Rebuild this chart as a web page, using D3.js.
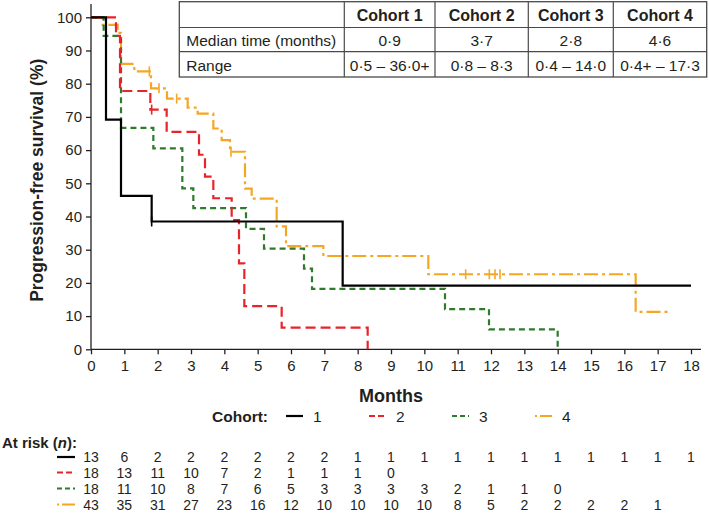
<!DOCTYPE html>
<html><head><meta charset="utf-8">
<script src="https://cdn.jsdelivr.net/npm/d3@7"></script>
<style>
body{margin:0;background:#fff;}
text{font-family:Arial,"Liberation Sans",sans-serif;fill:#231f20;}
</style>
</head><body>
<svg id="chart" width="709" height="514"></svg>
<script>
// ---------- DATA ----------
const monthTicks = d3.range(0, 19);
const yTickValues = d3.range(0, 101, 10);
const cohortNames = ["1", "2", "3", "4"];

// Kaplan–Meier step curves (time in months, survival %)
const c1Times = [0, 0.45, 0.9, 1.82, 7.55, 18.0];
const c1Surv  = [100, 69.2, 46.2, 38.5, 19.2, 19.2];
const c2Times = [0, 0.75, 0.87, 1.78, 2.27, 3.24, 3.42, 3.67, 4.22, 4.44, 4.6, 5.72, 8.3];
const c2Surv  = [100, 94.4, 77.8, 72.2, 65.5, 58.6, 52.0, 45.5, 38.9, 25.9, 13.0, 6.5, 0];
const c3Times = [0, 0.38, 0.9, 1.87, 2.74, 3.07, 4.65, 5.19, 6.39, 6.63, 10.62, 11.94, 14.0];
const c3Surv  = [100, 94.4, 66.7, 60.5, 48.5, 42.5, 36.3, 30.3, 24.3, 18.2, 12.1, 6.0, 0];
const c4Times = [0, 0.35, 0.8, 0.9, 1.3, 1.8, 2.28, 2.9, 3.2, 3.67, 3.92, 4.17, 4.62, 4.82, 5.57, 5.85, 6.97, 10.12, 16.34, 17.3];
const c4Surv  = [100, 97.7, 95.3, 86.0, 83.7, 78.6, 75.5, 72.8, 71.0, 66.5, 63.0, 59.5, 48.4, 45.4, 37.0, 31.1, 28.1, 22.6, 11.3, 11.3];

// censored observations (months)
const c1Censor = [1.82];
const c2Censor = [1.82];
const c3Censor = [];
const c4Censor = [1.75, 2.04, 2.57, 4.2, 11.24, 11.95, 12.12, 12.27];

// numbers at risk at each month
const risk1 = [13, 6, 2, 2, 2, 2, 2, 2, 1, 1, 1, 1, 1, 1, 1, 1, 1, 1, 1];
const risk2 = [18, 13, 11, 10, 7, 2, 1, 1, 1, 0];
const risk3 = [18, 11, 10, 8, 7, 6, 5, 3, 3, 3, 3, 2, 1, 1, 0];
const risk4 = [43, 35, 31, 27, 23, 16, 12, 10, 10, 10, 10, 8, 5, 2, 2, 2, 2, 1];

// summary table
const tableHeaders = ["", "Cohort 1", "Cohort 2", "Cohort 3", "Cohort 4"];
const medianRow = ["Median time (months)", "0·9", "3·7", "2·8", "4·6"];
const rangeRow  = ["Range", "0·5 – 36·0+", "0·8 – 8·3", "0·4 – 14·0", "0·4+ – 17·3"];

// ---------- STYLE ----------
const colors = ["#000000", "#e8232a", "#2e7b2c", "#f6a623"];
const dashes = [null, "10,5", "6,4", "14,4,3,4"];
const widths = [2.2, 2.2, 2.2, 2.2];

const series = [
  {t: c1Times, s: c1Surv, c: c1Censor, r: risk1},
  {t: c2Times, s: c2Surv, c: c2Censor, r: risk2},
  {t: c3Times, s: c3Surv, c: c3Censor, r: risk3},
  {t: c4Times, s: c4Surv, c: c4Censor, r: risk4}
];

const svg = d3.select("#chart");
const x = d3.scaleLinear().domain([0, 18]).range([91, 691]);
const y = d3.scaleLinear().domain([0, 100]).range([349.3, 17.3]);

// ---------- AXES ----------
const axisColor = "#231f20";
const gx = svg.append("g").attr("transform", `translate(0,${y(0)})`)
  .call(d3.axisBottom(x).tickValues(monthTicks).tickSize(5).tickSizeOuter(0).tickPadding(6));
const gy = svg.append("g").attr("transform", `translate(${x(0)},0)`)
  .call(d3.axisLeft(y).tickValues(yTickValues).tickSize(5).tickSizeOuter(0).tickPadding(4));
[gx, gy].forEach(g => {
  g.select(".domain").remove();
  g.selectAll(".tick line").attr("stroke", axisColor).attr("stroke-width", 1.3);
  g.selectAll(".tick text").attr("font-size", 15).style("font-family", "Arial, 'Liberation Sans', sans-serif").attr("fill", axisColor);
});
svg.append("line").attr("x1", x(0)).attr("x2", x(18.3)).attr("y1", y(0)).attr("y2", y(0))
  .attr("stroke", axisColor).attr("stroke-width", 1.3);
svg.append("line").attr("x1", x(0)).attr("x2", x(0)).attr("y1", y(0)).attr("y2", y(104))
  .attr("stroke", axisColor).attr("stroke-width", 1.3);

svg.append("text").attr("x", x(9)).attr("y", 402).attr("text-anchor", "middle")
  .attr("font-size", 18).attr("font-weight", "bold").text("Months");
svg.append("text").attr("transform", `translate(43,${(y(0)+y(100))/2 - 3}) rotate(-90)`)
  .attr("text-anchor", "middle").attr("font-size", 17.5).attr("font-weight", "bold")
  .text("Progression-free survival (%)");

// ---------- CURVES ----------
const line = d3.line().x(d => x(d[0])).y(d => y(d[1])).curve(d3.curveStepAfter);
function survAt(sr, t) {
  let v = sr.s[0];
  for (let i = 0; i < sr.t.length; i++) if (sr.t[i] <= t) v = sr.s[i];
  return v;
}
// draw in order so that black is on top
[3, 2, 1, 0].forEach(i => {
  const sr = series[i];
  const pts = sr.t.map((t, k) => [t, sr.s[k]]);
  svg.append("path").attr("d", line(pts)).attr("fill", "none")
    .attr("stroke", colors[i]).attr("stroke-width", widths[i])
    .attr("stroke-dasharray", dashes[i]);
  sr.c.forEach(ct => {
    const v = survAt(sr, ct);
    svg.append("line").attr("x1", x(ct)).attr("x2", x(ct))
      .attr("y1", y(v) - 5).attr("y2", y(v) + 5)
      .attr("stroke", colors[i]).attr("stroke-width", 1.6);
  });
});

// ---------- TABLE ----------
const colEdges = [179.3, 344.3, 435, 528.3, 613.3, 706.7];
const rowEdges = [1.7, 27.5, 51.7, 77];
const tg = svg.append("g");
tg.append("rect").attr("x", colEdges[0]).attr("y", rowEdges[0])
  .attr("width", colEdges[5] - colEdges[0]).attr("height", rowEdges[3] - rowEdges[0])
  .attr("fill", "#fff").attr("stroke", "#4a4a4a").attr("stroke-width", 1.3);
rowEdges.slice(1, 3).forEach(ry => tg.append("line").attr("x1", colEdges[0]).attr("x2", colEdges[5])
  .attr("y1", ry).attr("y2", ry).attr("stroke", "#4a4a4a").attr("stroke-width", 1.2));
colEdges.slice(1, 5).forEach(cx => tg.append("line").attr("x1", cx).attr("x2", cx)
  .attr("y1", rowEdges[0]).attr("y2", rowEdges[3]).attr("stroke", "#4a4a4a").attr("stroke-width", 1.2));
const rows = [tableHeaders, medianRow, rangeRow];
const baselines = [21, 46, 70.5];
rows.forEach((row, ri) => {
  row.forEach((txt, ci) => {
    if (!txt) return;
    const first = ci === 0;
    tg.append("text")
      .attr("x", first ? colEdges[0] + 7 : (colEdges[ci] + colEdges[ci + 1]) / 2)
      .attr("y", baselines[ri])
      .attr("text-anchor", first ? "start" : "middle")
      .attr("font-size", ri === 0 ? 16 : 15.5)
      .attr("font-weight", ri === 0 ? "bold" : "normal")
      .text(txt);
  });
});

// ---------- LEGEND ----------
const legY = 416;
svg.append("text").attr("x", 268).attr("y", legY + 5.5).attr("text-anchor", "end")
  .attr("font-size", 15.5).attr("font-weight", "bold").text("Cohort:");
cohortNames.forEach((nm, i) => {
  const lx = 286 + i * 83;
  svg.append("line").attr("x1", lx).attr("x2", lx + 17).attr("y1", legY).attr("y2", legY)
    .attr("stroke", colors[i]).attr("stroke-width", widths[i]).attr("stroke-dasharray", dashes[i] ? (i === 3 ? "2,3,12,0" : (i === 1 ? "6,3" : "5,3")) : null);
  svg.append("text").attr("x", lx + 27).attr("y", legY + 5.5).attr("font-size", 15.5).text(nm);
});

// ---------- AT RISK ----------
const at = svg.append("text").attr("x", 2).attr("y", 447.5).attr("font-size", 15).attr("font-weight", "bold");
at.append("tspan").text("At risk (");
at.append("tspan").attr("font-style", "italic").text("n");
at.append("tspan").text("):");
const rowY = [457, 472.5, 488.5, 504.5];
series.forEach((sr, i) => {
  svg.append("line").attr("x1", 57).attr("x2", 75).attr("y1", rowY[i]).attr("y2", rowY[i])
    .attr("stroke", colors[i]).attr("stroke-width", widths[i])
    .attr("stroke-dasharray", dashes[i] ? (i === 3 ? "2,3,12,0" : (i === 1 ? "6,3" : "5,3")) : null);
  sr.r.forEach((n, m) => {
    svg.append("text").attr("x", x(monthTicks[m])).attr("y", rowY[i] + 5)
      .attr("text-anchor", "middle").attr("font-size", 14).text(n);
  });
});
</script>
</body></html>
